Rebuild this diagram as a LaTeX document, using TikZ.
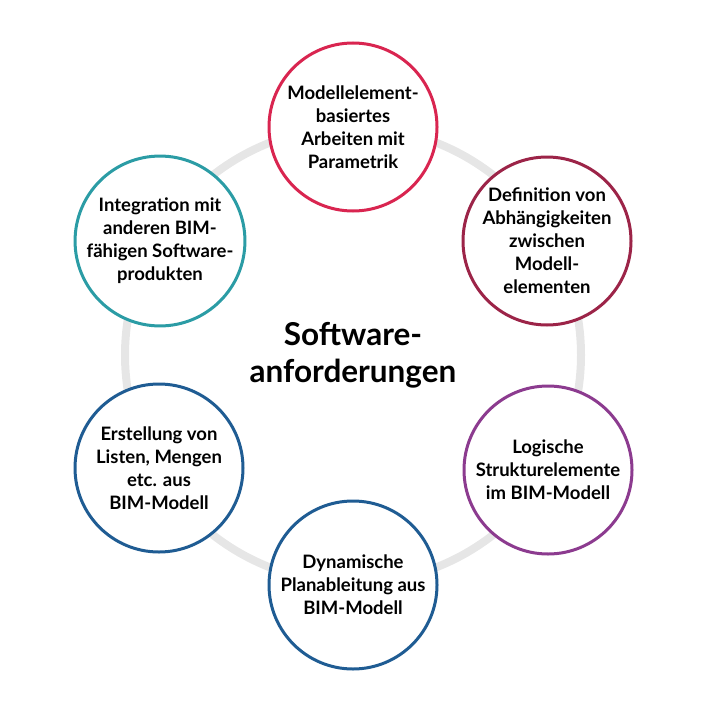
\documentclass[tikz,border=0pt]{standalone}
\usepackage{fontspec}
\setmainfont{Lato}
\usepackage{tikz}

\definecolor{ringgrey}{HTML}{E6E6E6}
\definecolor{crimson}{HTML}{D92550}
\definecolor{maroon}{HTML}{9C2448}
\definecolor{plum}{HTML}{8C3B8F}
\definecolor{navy}{HTML}{1F5C93}
\definecolor{teal}{HTML}{2B9CA5}

\tikzset{
  topic/.style={circle, draw=#1, line width=3pt, fill=white, minimum size=168pt,
    inner sep=0pt, align=center, font=\fontsize{18.5}{23}\selectfont\bfseries},
  title/.style={align=center, font=\fontsize{31.5}{37}\selectfont\bfseries}
}

\begin{document}
\begin{tikzpicture}[x=1pt, y=-1pt]
  \useasboundingbox (0,0) rectangle (706,706);
  \def\rad{228}
  \coordinate (c) at (353,355);
  \draw[ringgrey, line width=8pt] (c) circle[radius=\rad];

  \node[title] (centre) at (353,355) {Software-\\anforderungen};

  \node[topic=crimson] (model) at (353,127) {Modellelement-\\basiertes\\Arbeiten mit\\Parametrik};
  \node[topic=maroon] (depend) at (547,241) {Definition von\\Abhängigkeiten\\zwischen\\Modell-\\elementen};
  \node[topic=plum] (struct) at (548,470) {Logische\\Strukturelemente\\im BIM-Modell};
  \node[topic=navy] (plan) at (353,585) {Dynamische\\Planableitung aus\\BIM-Modell};
  \node[topic=navy] (lists) at (159,468) {Erstellung von\\Listen, Mengen\\etc. aus\\BIM-Modell};
  \node[topic=teal] (integ) at (160,241) {Integration mit\\anderen BIM-\\fähigen Software-\\produkten};
\end{tikzpicture}
\end{document}
